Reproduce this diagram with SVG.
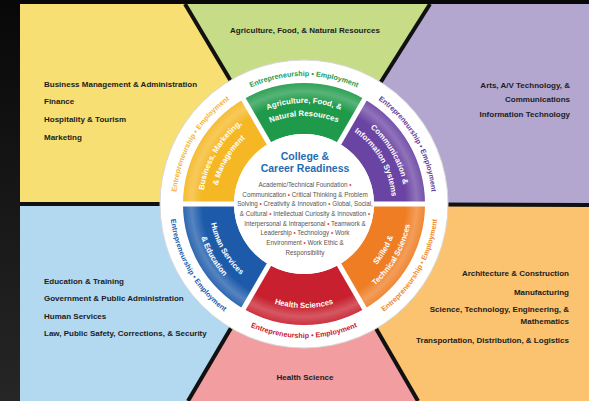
<svg xmlns="http://www.w3.org/2000/svg" width="589" height="401" viewBox="0 0 589 401">
<defs>
<style>
.bgt{font-family:"Liberation Sans",Arial,sans-serif;font-weight:bold;font-size:8px;fill:#1c1c1c}
.ring{font-family:"Liberation Sans",Arial,sans-serif;font-weight:bold;font-size:7.2px}
.wl{font-family:"Liberation Sans",Arial,sans-serif;font-weight:bold;font-size:7.8px;fill:#fff}
.body{font-family:"Liberation Sans",Arial,sans-serif;font-size:6.3px;fill:#555}
.title{font-family:"Liberation Sans",Arial,sans-serif;font-weight:bold;font-size:10.5px;fill:#1f6cb4}
.div{stroke:#111;stroke-width:4;fill:none}
.gap{stroke:#fff;stroke-width:5}
.bul{fill:#d9463b}
</style>
<linearGradient id="frame" x1="0" y1="0" x2="0" y2="1">
<stop offset="0" stop-color="#080808"/>
<stop offset="1" stop-color="#262626"/>
</linearGradient>
<radialGradient id="gloss" gradientUnits="userSpaceOnUse" cx="304" cy="204" r="121">
<stop offset="0.84" stop-color="#fff" stop-opacity="0"/>
<stop offset="0.93" stop-color="#fff" stop-opacity="0.25"/>
<stop offset="1" stop-color="#fff" stop-opacity="0.08"/>
</radialGradient>
<path id="ringY" d="M176,204 A128,128 0 0 1 240,93.15"/>
<path id="ringG" d="M240,93.15 A128,128 0 0 1 368,93.15"/>
<path id="ringP" d="M368,93.15 A128,128 0 0 1 432,204"/>
<path id="ringO" d="M371,320.05 A134,134 0 0 0 438,204"/>
<path id="ringR" d="M237,320.05 A134,134 0 0 0 371,320.05"/>
<path id="ringB" d="M170,204 A134,134 0 0 0 237,320.05"/>
<path id="g1" d="M253.5,116.53 A101,101 0 0 1 354.5,116.53"/>
<path id="g2" d="M260,127.79 A88,88 0 0 1 348,127.79"/>
<path id="y1" d="M203,204 A101,101 0 0 1 253.5,116.53"/>
<path id="y2" d="M216,204 A88,88 0 0 1 260,127.79"/>
<path id="p1" d="M354.5,116.53 A101,101 0 0 1 405,204"/>
<path id="p2" d="M348,127.79 A88,88 0 0 1 392,204"/>
<path id="o1" d="M351.5,286.27 A95,95 0 0 0 399,204"/>
<path id="o2" d="M358,297.53 A108,108 0 0 0 412,204"/>
<path id="r1" d="M252,294.07 A104,104 0 0 0 356,294.07"/>
<path id="b1" d="M209,204 A95,95 0 0 0 256.5,286.27"/>
<path id="b2" d="M196,204 A108,108 0 0 0 250,297.53"/>
</defs>

<rect x="0" y="0" width="589" height="401" fill="url(#frame)"/>

<g id="background">
<polygon points="20,4 185,4 304,204 20,204" fill="#f8df74"/>
<polygon points="185,4 430,4 304,204" fill="#c6dc87"/>
<polygon points="430,4 589,4 589,205 304,204" fill="#b3a7cf"/>
<polygon points="304,204 589,205 589,401 418,401" fill="#fbc26f"/>
<polygon points="304,204 418,401 188,401" fill="#f29d9f"/>
<polygon points="304,204 188,401 20,401 20,204" fill="#b3d9f0"/>
</g>

<g id="connectors">
<line class="div" x1="20" y1="204" x2="304" y2="204"/>
<line class="div" x1="304" y1="204" x2="589" y2="205"/>
<line class="div" x1="304" y1="204" x2="185" y2="4"/>
<line class="div" x1="304" y1="204" x2="430" y2="4"/>
<line class="div" x1="304" y1="204" x2="188" y2="401"/>
<line class="div" x1="304" y1="204" x2="418" y2="401"/>
</g>

<g id="cluster-labels">
<g id="lbl-business">
<text class="bgt" x="44" y="86.5">Business Management &amp; Administration</text>
<text class="bgt" x="44" y="104">Finance</text>
<text class="bgt" x="44" y="122">Hospitality &amp; Tourism</text>
<text class="bgt" x="44" y="140">Marketing</text>
</g>
<g id="lbl-human">
<text class="bgt" x="44" y="283.5">Education &amp; Training</text>
<text class="bgt" x="44" y="301">Government &amp; Public Administration</text>
<text class="bgt" x="44" y="319">Human Services</text>
<text class="bgt" x="44" y="336">Law, Public Safety, Corrections, &amp; Security</text>
</g>
<g id="lbl-comm" text-anchor="end">
<text class="bgt" x="570" y="87.5">Arts, A/V Technology, &amp;</text>
<text class="bgt" x="570" y="102">Communications</text>
<text class="bgt" x="570" y="117">Information Technology</text>
</g>
<g id="lbl-skilled" text-anchor="end">
<text class="bgt" x="569" y="276">Architecture &amp; Construction</text>
<text class="bgt" x="569" y="294.5">Manufacturing</text>
<text class="bgt" x="569" y="311.5">Science, Technology, Engineering, &amp;</text>
<text class="bgt" x="569" y="323.5">Mathematics</text>
<text class="bgt" x="569" y="342.5">Transportation, Distribution, &amp; Logistics</text>
</g>
<g id="lbl-agri"><text class="bgt" x="305" y="32.5" text-anchor="middle">Agriculture, Food, &amp; Natural Resources</text></g>
<g id="lbl-health"><text class="bgt" x="305" y="380" text-anchor="middle">Health Science</text></g>
</g>

<g id="wheel">
<circle cx="304" cy="204" r="144" fill="#fff" stroke="#d8d8d8" stroke-width="1"/>
</g>

<g id="wedge-agri">
<path d="M243.5,99.21 A121,121 0 0 1 364.5,99.21 L339,143.38 A70,70 0 0 0 269,143.38 Z" fill="#1f9a4a"/>
</g>
<g id="wedge-comm">
<path d="M364.5,99.21 A121,121 0 0 1 425,204 L374,204 A70,70 0 0 0 339,143.38 Z" fill="#6a44a3"/>
</g>
<g id="wedge-skilled">
<path d="M425,204 A121,121 0 0 1 364.5,308.79 L339,264.62 A70,70 0 0 0 374,204 Z" fill="#ef7d23"/>
</g>
<g id="wedge-health">
<path d="M364.5,308.79 A121,121 0 0 1 243.5,308.79 L269,264.62 A70,70 0 0 0 339,264.62 Z" fill="#c8202f"/>
</g>
<g id="wedge-human">
<path d="M243.5,308.79 A121,121 0 0 1 183,204 L234,204 A70,70 0 0 0 269,264.62 Z" fill="#1d5baa"/>
</g>
<g id="wedge-business">
<path d="M183,204 A121,121 0 0 1 243.5,99.21 L269,143.38 A70,70 0 0 0 234,204 Z" fill="#f5b824"/>
</g>

<g id="wheel-detail">
<circle cx="304" cy="204" r="121" fill="url(#gloss)"/>
<line class="gap" x1="304" y1="204" x2="241" y2="94.9"/>
<line class="gap" x1="304" y1="204" x2="367" y2="94.9"/>
<line class="gap" x1="304" y1="204" x2="430" y2="204"/>
<line class="gap" x1="304" y1="204" x2="367" y2="313.1"/>
<line class="gap" x1="304" y1="204" x2="241" y2="313.1"/>
<line class="gap" x1="304" y1="204" x2="178" y2="204"/>
<circle cx="304" cy="204" r="70" fill="#fff"/>
</g>

<g id="ring-text">
<text class="ring" fill="#f2b53a"><textPath href="#ringY" startOffset="50%" text-anchor="middle">Entrepreneurship • Employment</textPath></text>
<text class="ring" fill="#23994b"><textPath href="#ringG" startOffset="50%" text-anchor="middle">Entrepreneurship • Employment</textPath></text>
<text class="ring" fill="#5b3c97"><textPath href="#ringP" startOffset="50%" text-anchor="middle">Entrepreneurship • Employment</textPath></text>
<text class="ring" fill="#f08a2a"><textPath href="#ringO" startOffset="50%" text-anchor="middle">Entrepreneurship • Employment</textPath></text>
<text class="ring" fill="#c8202f"><textPath href="#ringR" startOffset="50%" text-anchor="middle">Entrepreneurship • Employment</textPath></text>
<text class="ring" fill="#1d5baa"><textPath href="#ringB" startOffset="50%" text-anchor="middle">Entrepreneurship • Employment</textPath></text>
</g>

<g id="wedge-labels">
<text class="wl"><textPath href="#g1" startOffset="50%" text-anchor="middle">Agriculture, Food, &amp;</textPath></text>
<text class="wl"><textPath href="#g2" startOffset="50%" text-anchor="middle">Natural Resources</textPath></text>
<text class="wl"><textPath href="#p1" startOffset="50%" text-anchor="middle">Communication &amp;</textPath></text>
<text class="wl"><textPath href="#p2" startOffset="50%" text-anchor="middle">Information Systems</textPath></text>
<text class="wl"><textPath href="#o1" startOffset="50%" text-anchor="middle">Skilled &amp;</textPath></text>
<text class="wl"><textPath href="#o2" startOffset="50%" text-anchor="middle">Technical Sciences</textPath></text>
<text class="wl"><textPath href="#r1" startOffset="50%" text-anchor="middle">Health Sciences</textPath></text>
<text class="wl"><textPath href="#b1" startOffset="50%" text-anchor="middle">Human Services</textPath></text>
<text class="wl"><textPath href="#b2" startOffset="50%" text-anchor="middle">&amp; Education</textPath></text>
<text class="wl"><textPath href="#y1" startOffset="50%" text-anchor="middle">Business, Marketing,</textPath></text>
<text class="wl"><textPath href="#y2" startOffset="50%" text-anchor="middle">&amp; Management</textPath></text>
</g>

<g id="center" text-anchor="middle">
<text class="title" x="305" y="159.5">College &amp;</text>
<text class="title" x="305" y="171.5">Career Readiness</text>
<text class="body" x="305" y="187">Academic/Technical Foundation <tspan class="bul">•</tspan></text>
<text class="body" x="305" y="196.5">Communication <tspan class="bul">•</tspan> Critical Thinking &amp; Problem</text>
<text class="body" x="305" y="206.2">Solving <tspan class="bul">•</tspan> Creativity &amp; Innovation <tspan class="bul">•</tspan> Global, Social,</text>
<text class="body" x="305" y="215.9">&amp; Cultural <tspan class="bul">•</tspan> Intellectual Curiosity &amp; Innovation <tspan class="bul">•</tspan></text>
<text class="body" x="305" y="225.6">Interpersonal &amp; Intrapersonal <tspan class="bul">•</tspan> Teamwork &amp;</text>
<text class="body" x="305" y="235.3">Leadership <tspan class="bul">•</tspan> Technology <tspan class="bul">•</tspan> Work</text>
<text class="body" x="305" y="245">Environment <tspan class="bul">•</tspan> Work Ethic &amp;</text>
<text class="body" x="305" y="254.5">Responsibility</text>
</g>
</svg>
